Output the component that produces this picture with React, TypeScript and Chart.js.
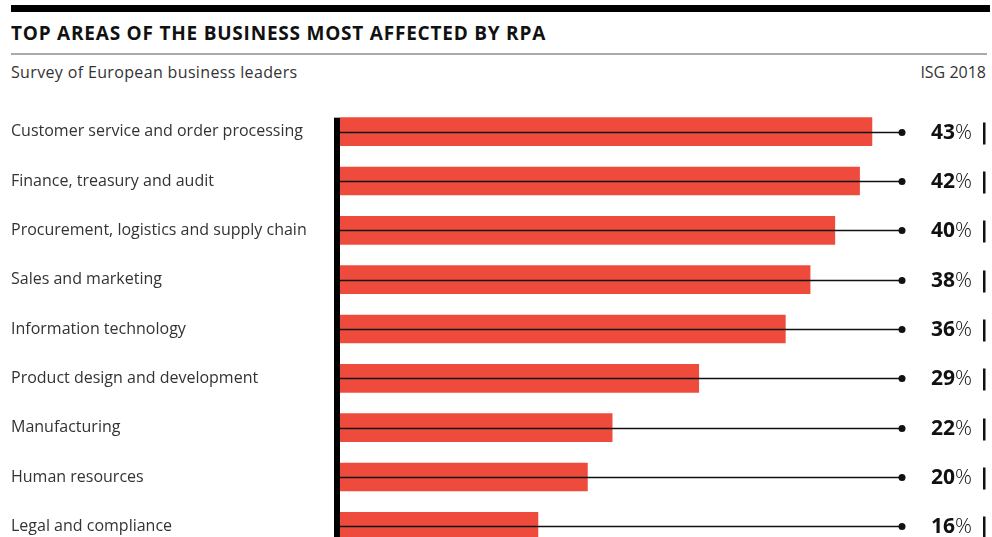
import React, { useEffect, useRef } from "react";
import { Chart, registerables } from "chart.js";

Chart.register(...registerables);

const categories = [
  "Customer service and order processing",
  "Finance, treasury and audit",
  "Procurement, logistics and supply chain",
  "Sales and marketing",
  "Information technology",
  "Product design and development",
  "Manufacturing",
  "Human resources",
  "Legal and compliance",
];
const values = [43, 42, 40, 38, 36, 29, 22, 20, 16];

const TITLE = "TOP AREAS OF THE BUSINESS MOST AFFECTED BY RPA";
const SUBTITLE = "Survey of European business leaders";
const SOURCE = "ISG 2018";

const FONT = "'Open Sans', 'DejaVu Sans', sans-serif";
const RED = "#EF4B3C";

const leaderPlugin = {
  id: "leaders",
  afterDatasetsDraw(chart: any) {
    const { ctx, chartArea } = chart;
    const meta = chart.getDatasetMeta(0);
    ctx.save();
    if (meta.data.length) {
      const first: any = meta.data[0];
      const top = first.y - first.height / 2;
      ctx.fillStyle = "#000";
      ctx.fillRect(chartArea.left - 6, top, 6, chart.height - top);
    }
    meta.data.forEach((bar: any, i: number) => {
      const y = Math.round(bar.y) + 0.5;
      const xEnd = chartArea.right;
      ctx.strokeStyle = "#111";
      ctx.lineWidth = 1.3;
      ctx.beginPath();
      ctx.moveTo(chartArea.left, y);
      ctx.lineTo(xEnd, y);
      ctx.stroke();
      ctx.fillStyle = "#111";
      ctx.beginPath();
      ctx.arc(xEnd, y, 3.5, 0, Math.PI * 2);
      ctx.fill();
      const num = String(values[i]);
      ctx.textBaseline = "middle";
      ctx.textAlign = "right";
      ctx.font = `300 21px ${FONT}`;
      const pctW = ctx.measureText("%").width;
      const right = 972;
      ctx.fillText("%", right, y + 1);
      ctx.font = `700 21px ${FONT}`;
      ctx.fillText(num, right - pctW, y + 1);
      ctx.fillRect(983, y - 10, 2.5, 22);
    });
    ctx.restore();
  },
};

export default function App() {
  const ref = useRef<HTMLCanvasElement | null>(null);
  useEffect(() => {
    if (!ref.current) return;
    const chart = new Chart(ref.current, {
      type: "bar",
      data: {
        labels: categories,
        datasets: [
          {
            data: values,
            backgroundColor: RED,
            borderWidth: 0,
            barThickness: 28,
          },
        ],
      },
      options: {
        indexAxis: "y",
        animation: false,
        responsive: false,
        maintainAspectRatio: false,
        layout: { padding: { left: 11, right: 90, top: 107, bottom: 49 } },
        plugins: {
          legend: { display: false },
          tooltip: { enabled: false },
          title: { display: false },
        },
        scales: {
          x: {
            display: false,
            min: 0,
            max: 45.43,
            grid: { display: false },
          },
          y: {
            grid: { display: false },
            border: { display: false },
            afterFit: (scale: any) => {
              scale.width = 329;
            },
            ticks: {
              crossAlign: "far",
              color: "#333",
              padding: 0,
              font: { family: FONT, size: 16 },
            },
          },
        },
      },
      plugins: [leaderPlugin],
    });
    return () => chart.destroy();
  }, []);

  return (
    <div style={{ position: "absolute", left: 0, top: 0, width: 992, height: 600, background: "#fff", overflow: "hidden" }}>
      <div style={{ position: "absolute", left: 11, top: 5, width: 979, height: 7, background: "#000" }} />
      <div
        style={{
          position: "absolute",
          left: 11,
          top: 20,
          fontFamily: FONT,
          fontWeight: 700,
          fontSize: 19,
          letterSpacing: 0.78,
          color: "#111",
          lineHeight: "26px",
          whiteSpace: "nowrap",
        }}
      >
        {TITLE}
      </div>
      <div style={{ position: "absolute", left: 11, top: 53, width: 976, height: 1.5, background: "#aaa" }} />
      <div
        style={{
          position: "absolute",
          left: 11,
          top: 61,
          fontFamily: FONT,
          fontSize: 16,
          letterSpacing: 0.35,
          color: "#333",
          lineHeight: "22px",
          whiteSpace: "nowrap",
        }}
      >
        {SUBTITLE}
      </div>
      <div
        style={{
          position: "absolute",
          right: 6,
          top: 61,
          fontFamily: FONT,
          fontSize: 16,
          color: "#333",
          lineHeight: "22px",
          whiteSpace: "nowrap",
        }}
      >
        {SOURCE}
      </div>
      <canvas ref={ref} width={992} height={600} style={{ position: "absolute", left: 0, top: 0, width: 992, height: 600 }} />
    </div>
  );
}
